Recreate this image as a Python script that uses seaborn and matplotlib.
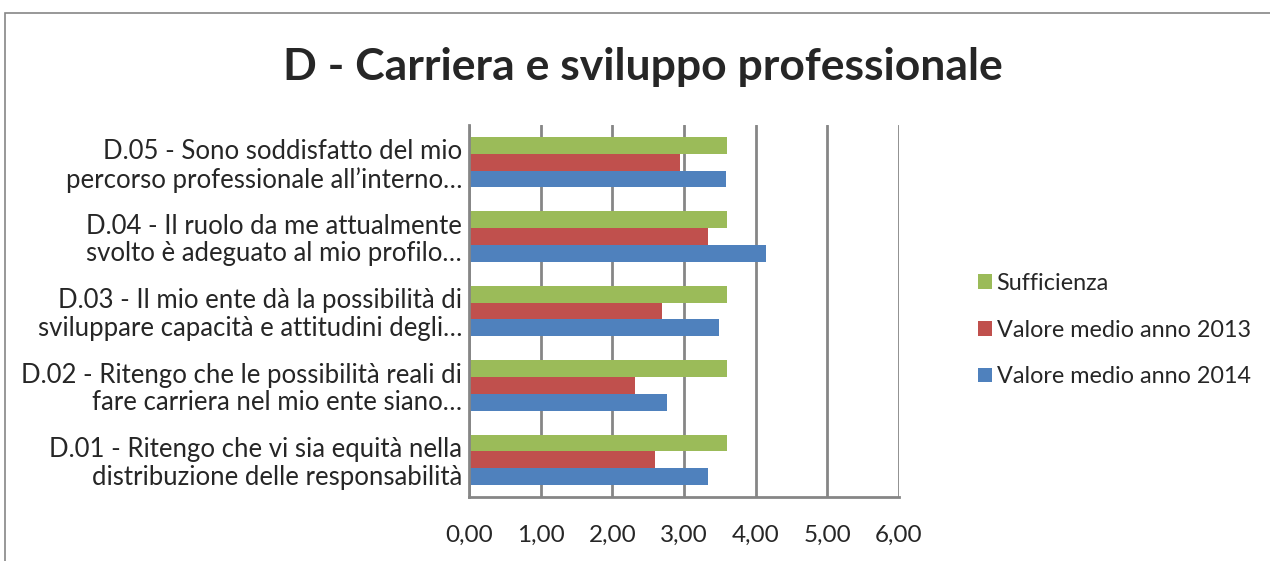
import matplotlib
matplotlib.use("Agg")
import matplotlib.pyplot as plt
from matplotlib.patches import Rectangle
import seaborn as sns
import pandas as pd

questions = [
    "D.05 - Sono soddisfatto del mio\npercorso professionale all’interno…",
    "D.04 - Il ruolo da me attualmente\nsvolto è adeguato al mio profilo…",
    "D.03 - Il mio ente dà la possibilità di\nsviluppare capacità e attitudini degli…",
    "D.02 - Ritengo che le possibilità reali di\nfare carriera nel mio ente siano…",
    "D.01 - Ritengo che vi sia equità nella\ndistribuzione delle responsabilità",
]
series = ["Sufficienza", "Valore medio anno 2013", "Valore medio anno 2014"]
sufficienza = [3.60, 3.60, 3.60, 3.60, 3.60]
medio_2013 = [2.94, 3.33, 2.69, 2.32, 2.59]
medio_2014 = [3.59, 4.14, 3.49, 2.76, 3.33]
xticks = [0, 1, 2, 3, 4, 5, 6]
xtick_labels = ["0,00", "1,00", "2,00", "3,00", "4,00", "5,00", "6,00"]

rows = []
for name, vals in zip(series, [sufficienza, medio_2013, medio_2014]):
    for q, v in zip(questions, vals):
        rows.append({"Domanda": q, "Serie": name, "Valore": v})
df = pd.DataFrame(rows)

sns.set_style("white")
plt.rcParams["font.family"] = ["Lato", "DejaVu Sans"]

colors = {"Sufficienza": "#9BBB59",
          "Valore medio anno 2013": "#C0504D",
          "Valore medio anno 2014": "#4F81BD"}

fig = plt.figure(figsize=(12.7, 5.61), dpi=100)
ax = fig.add_axes([469 / 1270, 1 - 497 / 561, 430 / 1270, 372 / 561])

sns.barplot(data=df, x="Valore", y="Domanda", hue="Serie", order=questions,
            hue_order=series, palette=colors, width=0.68, orient="h",
            saturation=1, ax=ax, edgecolor="none")

ax.set_xlim(0, 6)
ax.set_xticks(xticks)
ax.set_xticklabels(xtick_labels)
ax.set_xlabel("")
ax.set_ylabel("")
grid_c = "#868686"
ax.grid(axis="x", color=grid_c, linewidth=2)
ax.set_axisbelow(True)
for s in ["top", "right"]:
    ax.spines[s].set_visible(False)
for s in ["left", "bottom"]:
    ax.spines[s].set_color(grid_c)
    ax.spines[s].set_linewidth(2)
ax.tick_params(axis="x", length=0, pad=20, labelsize=17.5)
ax.tick_params(axis="y", length=0, pad=5, labelsize=18.5)
for lab in ax.get_yticklabels():
    lab.set_multialignment("right")
    lab.set_linespacing(1.12)

handles, labels = ax.get_legend_handles_labels()
ax.legend(handles, labels, loc="center left", bbox_to_anchor=(957 / 1270, 1 - 330 / 561),
          bbox_transform=fig.transFigure, frameon=False, fontsize=16.8,
          handlelength=0.6, handleheight=0.6, handletextpad=0.2, labelspacing=1.1)

fig.text(643 / 1270, 1 - 67 / 561, "D - Carriera e sviluppo professionale",
         ha="center", va="center", fontsize=32, fontweight="bold")

fig.add_artist(Rectangle((5 / 1270, -0.05), 1.2, 1 - 13 / 561 + 0.05,
                         transform=fig.transFigure, fill=False,
                         edgecolor=grid_c, linewidth=1.2))

fig.savefig("out.png", dpi=100)
